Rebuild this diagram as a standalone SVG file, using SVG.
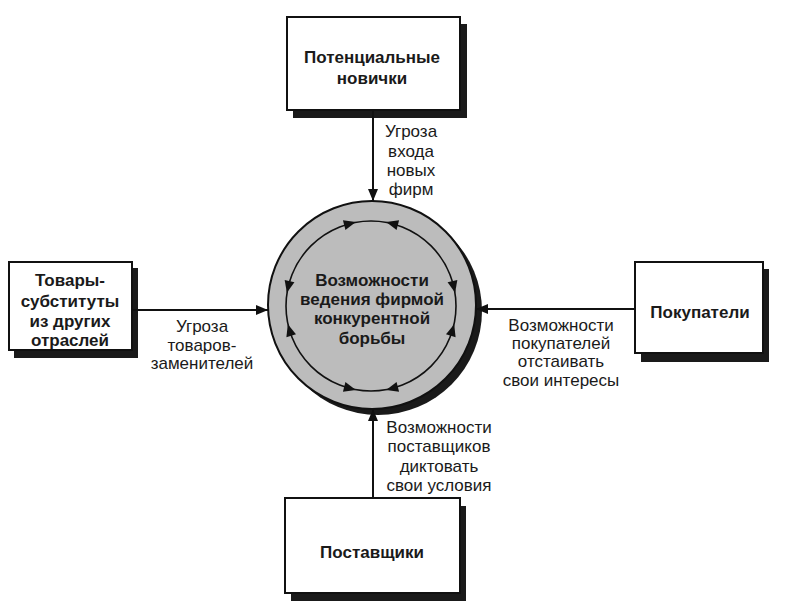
<svg xmlns="http://www.w3.org/2000/svg" width="789" height="615" viewBox="0 0 789 615">
<defs>
<style>
.box{fill:#fff;stroke:#111;stroke-width:2}
.shadow{fill:#1a1a1a}
.bt{font-family:"Liberation Sans",Arial,sans-serif;font-weight:bold;font-size:17px;fill:#1a1a1a;text-anchor:middle}
.lt{font-family:"Liberation Sans",Arial,sans-serif;font-size:17px;fill:#1a1a1a;text-anchor:middle}
.ln{stroke:#111;stroke-width:2;fill:none}
.ring{stroke:#111;stroke-width:1.6;fill:none}
</style>
<marker id="ah" viewBox="0 0 12 10" refX="12" refY="5" markerWidth="12" markerHeight="10" orient="auto" markerUnits="userSpaceOnUse">
<path d="M0,0 L12,5 L0,10 Z" fill="#111"/>
</marker>
<path id="tri" d="M6,0 L-6,-5 L-6,5 Z" fill="#111"/>
</defs>
<rect width="789" height="615" fill="#fff"/>

<g id="center">
<circle cx="378" cy="311" r="104" fill="#1a1a1a"/>
<circle cx="372" cy="305" r="104" fill="#bcbcbc" stroke="#111" stroke-width="2"/>
<circle cx="371" cy="306" r="85" class="ring"/>
<use href="#tri" transform="translate(350,223.6) rotate(-14.3)"/>
<use href="#tri" transform="translate(392,223.6) rotate(-165.7)"/>
<use href="#tri" transform="translate(288.2,287) rotate(102.9)"/>
<use href="#tri" transform="translate(289.5,330) rotate(-106.4)"/>
<use href="#tri" transform="translate(453.8,287) rotate(77.1)"/>
<use href="#tri" transform="translate(452.5,330) rotate(-73.6)"/>
<use href="#tri" transform="translate(350,388.4) rotate(14.3)"/>
<use href="#tri" transform="translate(392,388.4) rotate(165.7)"/>
<text class="bt" x="372" y="286">Возможности</text>
<text class="bt" x="372" y="305">ведения фирмой</text>
<text class="bt" x="372" y="324">конкурентной</text>
<text class="bt" x="372" y="344">борьбы</text>
</g>

<g id="newcomers">
<rect class="shadow" x="293" y="24" width="174" height="94"/>
<rect class="box" x="287" y="17" width="173" height="93"/>
<text class="bt" x="372" y="63">Потенциальные</text>
<text class="bt" x="372" y="84">новички</text>
</g>

<g id="substitutes">
<rect class="shadow" x="14" y="268" width="124" height="90"/>
<rect class="box" x="9" y="262" width="123" height="88"/>
<text class="bt" x="70" y="286">Товары-</text>
<text class="bt" x="70" y="307">субституты</text>
<text class="bt" x="70" y="327">из других</text>
<text class="bt" x="70" y="346">отраслей</text>
</g>

<g id="buyers">
<rect class="shadow" x="641" y="269" width="128" height="93"/>
<rect class="box" x="635" y="262" width="128" height="91"/>
<text class="bt" x="700" y="318">Покупатели</text>
</g>

<g id="suppliers">
<rect class="shadow" x="291" y="506" width="175" height="95"/>
<rect class="box" x="285" y="498" width="175" height="95"/>
<text class="bt" x="372" y="558">Поставщики</text>
</g>

<g id="connectors">
<line class="ln" x1="373" y1="110" x2="373" y2="201" marker-end="url(#ah)"/>
<line class="ln" x1="132" y1="310" x2="268" y2="310" marker-end="url(#ah)"/>
<line class="ln" x1="635" y1="309" x2="476" y2="309" marker-end="url(#ah)"/>
<line class="ln" x1="373" y1="498" x2="373" y2="409" marker-end="url(#ah)"/>
</g>

<g id="labels">
<text class="lt" x="411" y="137">Угроза</text>
<text class="lt" x="411" y="157">входа</text>
<text class="lt" x="411" y="176">новых</text>
<text class="lt" x="411" y="195">фирм</text>
<text class="lt" x="202" y="332">Угроза</text>
<text class="lt" x="202" y="351">товаров-</text>
<text class="lt" x="202" y="369">заменителей</text>
<text class="lt" x="561" y="331">Возможности</text>
<text class="lt" x="561" y="349">покупателей</text>
<text class="lt" x="561" y="367">отстаивать</text>
<text class="lt" x="561" y="386">свои интересы</text>
<text class="lt" x="439" y="433">Возможности</text>
<text class="lt" x="439" y="452">поставщиков</text>
<text class="lt" x="439" y="472">диктовать</text>
<text class="lt" x="439" y="491">свои условия</text>
</g>
</svg>
